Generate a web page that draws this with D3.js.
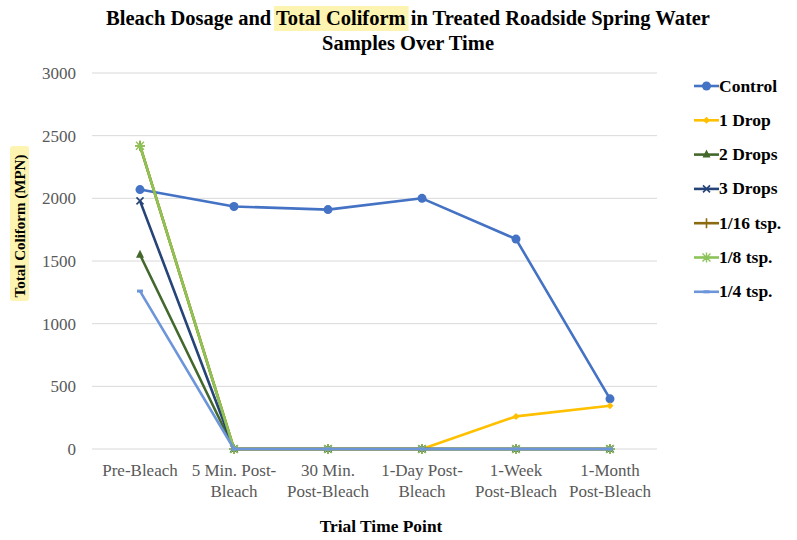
<!DOCTYPE html>
<html><head><meta charset="utf-8">
<script src="https://cdn.jsdelivr.net/npm/d3@7"></script>
<style>body{margin:0;background:#fff}svg{display:block}</style>
</head><body><svg id="c" width="797" height="540"></svg>
<script>
const categories = [["Pre-Bleach"],["5 Min. Post-","Bleach"],["30 Min.","Post-Bleach"],["1-Day Post-","Bleach"],["1-Week","Post-Bleach"],["1-Month","Post-Bleach"]];
const seriesNames = ["Control","1 Drop","2 Drops","3 Drops","1/16 tsp.","1/8 tsp.","1/4 tsp."];
const control = [2070, 1935, 1910, 2000, 1675, 400];
const drop1 = [2420, 0, 0, 0, 260, 345];
const drops2 = [1550, 0, 0, 0, 0, 0];
const drops3 = [1980, 0, 0, 0, 0, 0];
const tsp16 = [2420, 0, 0, 0, 0, 0];
const tsp8 = [2420, 0, 0, 0, 0, 0];
const tsp4 = [1260, 0, 0, 0, 0, 0];
const yTicks = [0,500,1000,1500,2000,2500,3000];
const colors = ["#4472C4","#FFC000","#43682B","#264478","#8B6A10","#8CC35A","#6D95D9"];
const markers = ["circle","diamond","triangle","x","plus","star","dash"];
const seriesData = [control, drop1, drops2, drops3, tsp16, tsp8, tsp4];

const svg = d3.select("#c");
const serif = "'Liberation Serif','Times New Roman',serif";
const x = d3.scalePoint().domain(d3.range(categories.length)).range([140,610]);
const y = d3.scaleLinear().domain([0,3000]).range([449,73]);

// title
const t = svg.append("g").attr("font-family", serif).attr("font-weight","bold").attr("font-size",20.5).attr("fill","#000");
const line1 = t.append("text").attr("x",408).attr("y",25).attr("text-anchor","middle");
line1.append("tspan").text("Bleach Dosage and ");
line1.append("tspan").text("Total Coliform");
line1.append("tspan").text(" in Treated Roadside Spring Water");
t.append("text").attr("x",408).attr("y",50).attr("text-anchor","middle").text("Samples Over Time");
{
  const n = line1.node();
  const start = n.getStartPositionOfChar(18).x;
  const end = n.getEndPositionOfChar(31).x;
  svg.insert("rect","g").attr("x",start-2).attr("y",6).attr("width",end-start+5).attr("height",25).attr("fill","#FCF4B0");
}

// grid
svg.append("g").selectAll("line").data(yTicks).join("line")
  .attr("x1",92).attr("x2",657).attr("y1",d=>y(d)).attr("y2",d=>y(d))
  .attr("stroke","#d9d9d9").attr("stroke-width",1);

// y axis labels
const yAxis = svg.append("g").attr("transform","translate(92,0)")
  .call(d3.axisLeft(y).tickValues(yTicks).tickSize(0).tickPadding(16).tickFormat(d3.format("d")));
yAxis.select(".domain").remove();
yAxis.selectAll("text").attr("font-family",serif).attr("font-size",17).attr("fill","#595959");

// x axis labels
const xl = svg.append("g").attr("font-family",serif).attr("font-size",17).attr("fill","#595959");
categories.forEach((c,i)=>{
  const tx = xl.append("text").attr("x",x(i)).attr("y",476).attr("text-anchor","middle");
  c.forEach((s,j)=>tx.append("tspan").attr("x",x(i)).attr("dy", j===0?0:21).text(s));
});

// axis titles
svg.append("text").attr("x",381).attr("y",532).attr("text-anchor","middle")
  .attr("font-family",serif).attr("font-weight","bold").attr("font-size",17.4).text("Trial Time Point");
svg.append("rect").attr("x",10).attr("y",146).attr("width",19).attr("height",155).attr("rx",3).attr("fill","#FCF4B0");
svg.append("text").attr("transform","translate(24.5,226) rotate(-90)").attr("text-anchor","middle")
  .attr("font-family",serif).attr("font-weight","bold").attr("font-size",15).attr("fill","#000").text("Total Coliform (MPN)");

function drawMarker(g, type, cx, cy, color){
  if(type==="circle") g.append("circle").attr("cx",cx).attr("cy",cy).attr("r",4.5).attr("fill",color);
  else if(type==="diamond") g.append("path").attr("d",`M${cx},${cy-3.5}L${cx+3.5},${cy}L${cx},${cy+3.5}L${cx-3.5},${cy}Z`).attr("fill",color);
  else if(type==="triangle") g.append("path").attr("d",`M${cx},${cy-5}L${cx+4},${cy+3}L${cx-4},${cy+3}Z`).attr("fill",color);
  else if(type==="x") g.append("path").attr("d",`M${cx-3.5},${cy-3.5}L${cx+3.5},${cy+3.5}M${cx+3.5},${cy-3.5}L${cx-3.5},${cy+3.5}`).attr("stroke",color).attr("stroke-width",1.6);
  else if(type==="plus") g.append("path").attr("d",`M${cx-5},${cy}L${cx+5},${cy}M${cx},${cy-5}L${cx},${cy+5}`).attr("stroke",color).attr("stroke-width",1.6);
  else if(type==="star") g.append("path").attr("d",`M${cx-4},${cy-4}L${cx+4},${cy+4}M${cx+4},${cy-4}L${cx-4},${cy+4}M${cx},${cy-5}L${cx},${cy+5}M${cx-5},${cy}L${cx+5},${cy}`).attr("stroke",color).attr("stroke-width",1.4);
  else if(type==="dash") g.append("path").attr("d",`M${cx-3},${cy}L${cx+3},${cy}`).attr("stroke",color).attr("stroke-width",3);
}

const line = d3.line().x((d,i)=>x(i)).y(d=>y(d));
const plot = svg.append("g");
seriesData.forEach((vals,k)=>{
  const g = plot.append("g");
  g.append("path").datum(vals).attr("d",line).attr("fill","none").attr("stroke",colors[k]).attr("stroke-width",2.6).attr("stroke-linejoin","round");
  vals.forEach((v,i)=>drawMarker(g, markers[k], x(i), y(v), colors[k]));
});

// legend
const lg = svg.append("g");
seriesNames.forEach((n,k)=>{
  const yy = 86 + k*34.3;
  const g = lg.append("g");
  g.append("line").attr("x1",694).attr("x2",719).attr("y1",yy).attr("y2",yy).attr("stroke",colors[k]).attr("stroke-width",2.6);
  drawMarker(g, markers[k], 706.5, yy, colors[k]);
  g.append("text").attr("x",719).attr("y",yy+5.5).attr("font-family",serif).attr("font-weight","bold").attr("font-size",17.5).attr("fill","#000").text(n);
});
</script></body></html>
